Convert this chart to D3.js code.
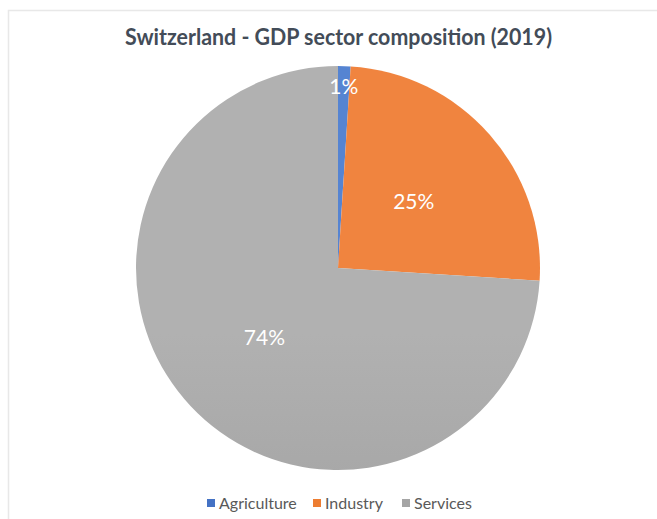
<!DOCTYPE html>
<html>
<head>
<meta charset="utf-8">
<script src="https://cdn.jsdelivr.net/npm/d3@7/dist/d3.min.js"></script>
<style>
  html, body { margin: 0; padding: 0; background: #fff; }
  svg { display: block; }
</style>
</head>
<body>
<svg id="chart" width="657" height="519"></svg>
<script>
// GDP composition by sector, Switzerland 2019 (percent of GDP)
const sectors = ["Agriculture", "Industry", "Services"];
const shares = [1, 25, 74];
const baseColors = ["#4472c4", "#ed7d31", "#a5a5a5"];
const topColors = ["#5584d2", "#f0843f", "#b1b1b1"];
const bottomColors = ["#3d68ba", "#e26a16", "#979797"];
const titleText = "Switzerland - GDP sector composition (2019)";

const W = 657, H = 519;
const cx = 338, cy = 268, R = 202;

const svg = d3.select("#chart");

// chart frame
svg.append("rect")
  .attr("x", 8.5).attr("y", 10.5)
  .attr("width", W).attr("height", H)
  .attr("fill", "#fff")
  .attr("stroke", "#e8e8e8")
  .attr("stroke-width", 1.5);

// vertical shading per slice
const defs = svg.append("defs");
sectors.forEach((s, i) => {
  const g = defs.append("linearGradient")
    .attr("id", "grad" + i)
    .attr("gradientUnits", "userSpaceOnUse")
    .attr("x1", 0).attr("y1", cy - R)
    .attr("x2", 0).attr("y2", cy + R);
  g.append("stop").attr("offset", "0%").attr("stop-color", topColors[i]);
  g.append("stop").attr("offset", "100%").attr("stop-color", bottomColors[i]);
});

// title
svg.append("text")
  .attr("x", 338.5).attr("y", 45)
  .attr("text-anchor", "middle")
  .attr("font-family", "Lato, 'Open Sans', sans-serif")
  .attr("font-weight", "bold")
  .attr("font-size", 23)
  .attr("fill", "#434c58")
  .attr("textLength", 427)
  .attr("lengthAdjust", "spacingAndGlyphs")
  .text(titleText);

const data = sectors.map((s, i) => ({ name: s, value: shares[i], i }));

const pie = d3.pie().value(d => d.value).sort(null);
const arcs = pie(data);
const arc = d3.arc().innerRadius(0).outerRadius(R);

const g = svg.append("g").attr("transform", `translate(${cx},${cy})`);

g.selectAll("path.slice")
  .data(arcs)
  .join("path")
  .attr("class", "slice")
  .attr("d", arc)
  .attr("fill", d => `url(#grad${d.data.i})`);

// percentage labels; thin slices get their label pushed toward the rim
g.selectAll("text.label")
  .data(arcs)
  .join("text")
  .attr("class", "label")
  .attr("transform", d => {
    const f = d.data.value < 5 ? 0.9 : 0.5;
    const a = (d.startAngle + d.endAngle) / 2;
    const r = R * f;
    return `translate(${Math.sin(a) * r},${-Math.cos(a) * r})`;
  })
  .attr("dy", "0.36em")
  .attr("text-anchor", "middle")
  .attr("font-family", "Lato, 'Open Sans', sans-serif")
  .attr("font-size", 21)
  .attr("fill", "#ffffff")
  .text(d => d.data.value + "%");

// legend
const legendY = 503;
const legend = svg.append("g");
const legendX = [207, 313, 402];
sectors.forEach((s, i) => {
  legend.append("rect")
    .attr("x", legendX[i]).attr("y", legendY - 4)
    .attr("width", 8).attr("height", 8)
    .attr("fill", baseColors[i]);
  legend.append("text")
    .attr("x", legendX[i] + 12).attr("y", legendY)
    .attr("dy", "0.35em")
    .attr("font-family", "Lato, 'Open Sans', sans-serif")
    .attr("font-size", 16)
    .attr("fill", "#595959")
    .text(s);
});
</script>
</body>
</html>
